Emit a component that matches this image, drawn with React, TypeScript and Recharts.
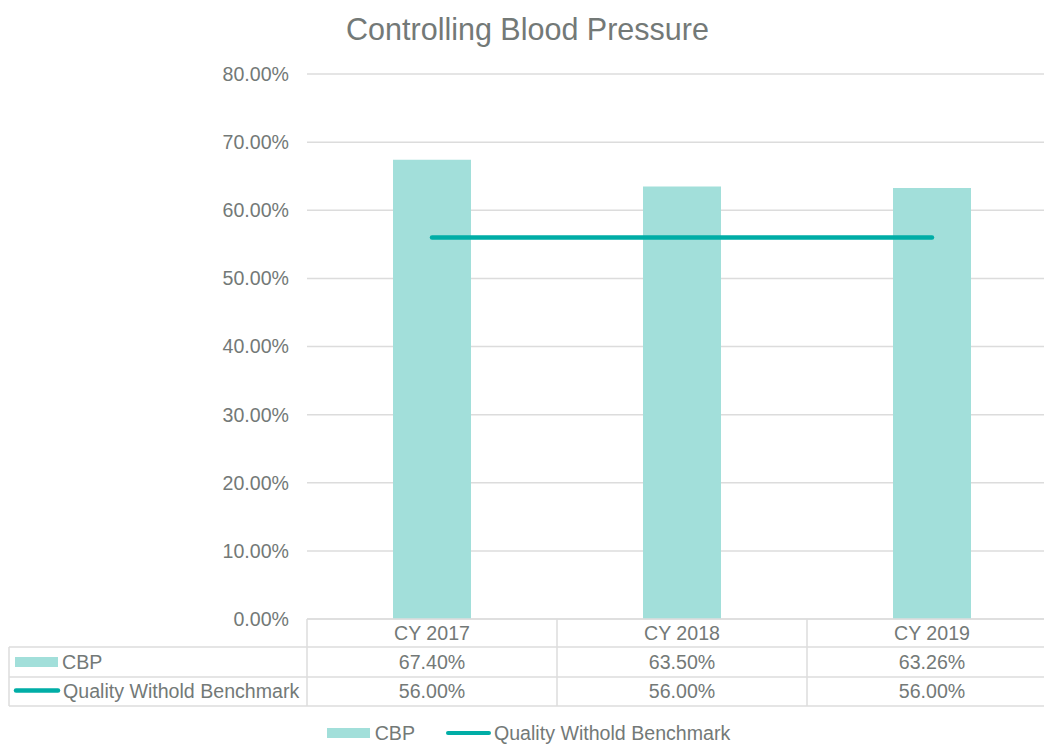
import React from 'react';
import {
  ComposedChart,
  Bar,
  Line,
  XAxis,
  YAxis,
  CartesianGrid,
  Legend,
} from 'recharts';

const categories = ['CY 2017', 'CY 2018', 'CY 2019'];
const cbpValues = [67.4, 63.5, 63.26];
const benchmarkValues = [56, 56, 56];
const yTicks = [0, 10, 20, 30, 40, 50, 60, 70, 80];
const cbpName = 'CBP';
const benchmarkName = 'Quality Withold Benchmark';

const CHART_W = 1057;
const CHART_H = 744;
const Y_AXIS_W = 307;
const BAR_COLOR = '#A2DFDA';
const LINE_COLOR = '#00ADA6';
const TEXT_COLOR = '#737977';
const GRID_COLOR = '#DCDCDC';
const FONT = '"Liberation Sans", Arial, sans-serif';
const FONT_SIZE = 19.6;

const data = categories.map((name, i) => ({
  name,
  cbp: cbpValues[i],
  benchmark: benchmarkValues[i],
}));

const pct = (v: number) => `${v.toFixed(2)}%`;

// the data table under the plot, drawn one column per x tick
const TableTick = (props: any) => {
  const { x, y, index } = props;
  const band = (CHART_W - Y_AXIS_W) / categories.length;
  const left = x - band / 2;
  const right = x + band / 2;
  const r1 = y + 28;
  const r2 = y + 58;
  const r3 = y + 87;
  const textProps = {
    fill: TEXT_COLOR,
    fontSize: FONT_SIZE,
    fontFamily: FONT,
    dominantBaseline: 'central' as const,
  };
  return (
    <g>
      <line x1={left} x2={left} y1={y} y2={r3} stroke={GRID_COLOR} strokeWidth={1.5} />
      {index === categories.length - 1 && (
        <line x1={right} x2={right} y1={y} y2={r3} stroke={GRID_COLOR} strokeWidth={1.5} />
      )}
      {[r1, r2, r3].map((ry) => (
        <line key={ry} x1={left} x2={right} y1={ry} y2={ry} stroke={GRID_COLOR} strokeWidth={1.5} />
      ))}
      <text x={x} y={y + 14} textAnchor="middle" {...textProps}>
        {categories[index]}
      </text>
      <text x={x} y={r1 + 15} textAnchor="middle" {...textProps}>
        {pct(cbpValues[index])}
      </text>
      <text x={x} y={r2 + 14} textAnchor="middle" {...textProps}>
        {pct(benchmarkValues[index])}
      </text>
      {index === 0 && (
        <g>
          <line x1={9} x2={9} y1={r1} y2={r3} stroke={GRID_COLOR} strokeWidth={1.5} />
          {[r1, r2, r3].map((ry) => (
            <line key={ry} x1={9} x2={left} y1={ry} y2={ry} stroke={GRID_COLOR} strokeWidth={1.5} />
          ))}
          <rect x={15} y={r1 + 10} width={43} height={10} fill={BAR_COLOR} />
          <text x={62} y={r1 + 15} textAnchor="start" {...textProps}>
            {cbpName}
          </text>
          <line
            x1={16}
            x2={58}
            y1={r2 + 13.5}
            y2={r2 + 13.5}
            stroke={LINE_COLOR}
            strokeWidth={4.5}
            strokeLinecap="round"
          />
          <text x={63} y={r2 + 14} textAnchor="start" {...textProps}>
            {benchmarkName}
          </text>
        </g>
      )}
    </g>
  );
};

const renderLegend = () => (
  <div
    style={{
      marginTop: 17,
      display: 'flex',
      justifyContent: 'center',
      alignItems: 'center',
      lineHeight: '20px',
      height: 20,
      fontFamily: FONT,
      fontSize: FONT_SIZE,
      color: TEXT_COLOR,
    }}
  >
    <span style={{ display: 'inline-block', width: 43, height: 10, background: BAR_COLOR, marginRight: 5 }} />
    <span style={{ marginRight: 31 }}>{cbpName}</span>
    <span
      style={{
        display: 'inline-block',
        width: 45,
        height: 4.5,
        borderRadius: 3,
        background: LINE_COLOR,
        marginRight: 3,
      }}
    />
    <span>{benchmarkName}</span>
  </div>
);

export default function App() {
  return (
    <div
      style={{
        position: 'absolute',
        left: 0,
        top: 0,
        width: 1044,
        height: 744,
        overflow: 'hidden',
        background: '#fff',
      }}
    >
      <div
        style={{
          position: 'absolute',
          top: 14,
          left: 0,
          width: 1055,
          textAlign: 'center',
          fontFamily: FONT,
          fontSize: 30.5,
          lineHeight: 1,
          color: TEXT_COLOR,
        }}
      >
        Controlling Blood Pressure
      </div>
      <ComposedChart
        width={CHART_W}
        height={CHART_H}
        data={data}
        margin={{ top: 74, right: 0, bottom: 0, left: 0 }}
      >
        <CartesianGrid vertical={false} stroke={GRID_COLOR} strokeWidth={1.5} />
        <XAxis
          dataKey="name"
          height={87}
          interval={0}
          tickSize={0}
          tickMargin={0}
          tickLine={false}
          axisLine={{ stroke: GRID_COLOR, strokeWidth: 1.5 }}
          tick={<TableTick />}
        />
        <YAxis
          width={Y_AXIS_W}
          domain={[0, 80]}
          ticks={yTicks}
          tickFormatter={pct}
          tickSize={0}
          tickMargin={18}
          tickLine={false}
          axisLine={false}
          tick={{ fill: TEXT_COLOR, fontSize: FONT_SIZE, fontFamily: FONT }}
        />
        <Bar dataKey="cbp" name={cbpName} fill={BAR_COLOR} barSize={78} isAnimationActive={false} />
        <Line
          dataKey="benchmark"
          name={benchmarkName}
          stroke={LINE_COLOR}
          strokeWidth={4.5}
          strokeLinecap="round"
          dot={false}
          activeDot={false}
          isAnimationActive={false}
        />
        <Legend verticalAlign="bottom" height={38} content={renderLegend} />
      </ComposedChart>
    </div>
  );
}
